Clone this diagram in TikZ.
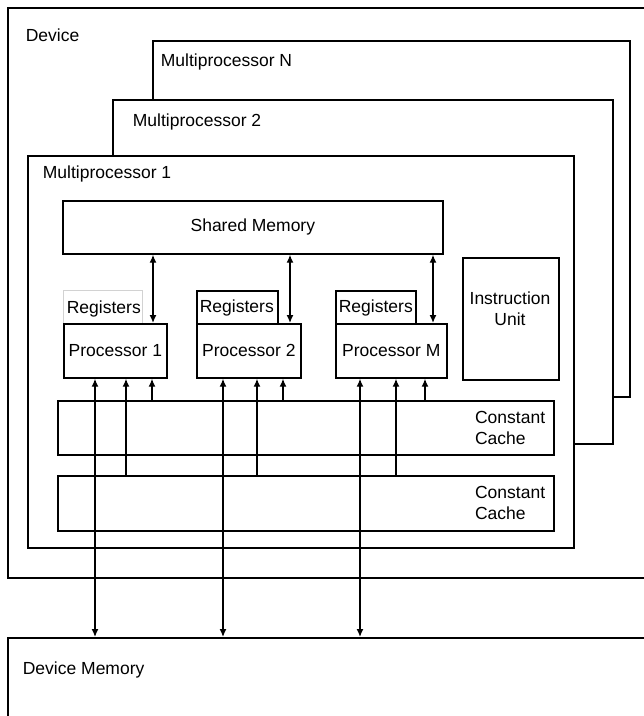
\documentclass[tikz,border=0pt]{standalone}
\usepackage{fontspec}
\setmainfont{Liberation Sans}
\usetikzlibrary{arrows.meta}
\begin{document}
\begin{tikzpicture}[x=1pt,y=-1pt, line width=1.7pt,
 box/.style={draw, fill=white, inner sep=0pt, anchor=north west},
 txt/.style={font=\fontsize{17.5}{21}\selectfont, inner sep=0pt},
 lbl/.style={txt, anchor=west},
 arr/.style={{Latex[length=8pt,width=7pt]}-{Latex[length=8pt,width=7pt]}, line width=1.4pt},
 up/.style={-{Latex[length=8pt,width=7pt]}, line width=1.4pt}]
\useasboundingbox (0,0) rectangle (644,716);
\clip (0,0) rectangle (644,716);
\newcommand{\rbox}[6][]{\node[box,#1, minimum width=#5-#3, minimum height=#6-#4] (#2) at (#3,#4) {};}
% device
\rbox{dev}{7}{7}{700}{577}
\node[lbl] (devl) at (25,35) {Device};
% multiprocessors
\rbox{mpn}{152}{40}{629}{396}
\node[lbl] (mpnl) at (160,62) {Multiprocessor N};
\rbox{mp2}{112}{99}{612}{443}
\node[lbl] (mp2l) at (132,122) {Multiprocessor 2};
\rbox{mp1}{27}{155}{573}{547}
\node[lbl] (mp1l) at (42,174) {Multiprocessor 1};
% shared memory
\rbox{sm}{62}{200}{442}{253}
\node[txt] (sml) at (sm.center) {Shared Memory};
% registers and processors
\rbox[draw=gray!35, line width=1.2pt]{r1}{63}{290}{142}{323}
\node[lbl] (r1l) at (66,309) {Registers};
\rbox{r2}{196}{290}{277}{324}
\node[lbl] (r2l) at (199,308) {Registers};
\rbox{r3}{335}{290}{415}{324}
\node[lbl] (r3l) at (338,308) {Registers};
\rbox{p1}{63}{323}{166}{377}
\node[txt] (p1l) at (p1.center) {Processor 1};
\rbox{p2}{196}{323}{300}{377}
\node[txt] (p2l) at (p2.center) {Processor 2};
\rbox{p3}{335}{323}{446}{377}
\node[txt] (p3l) at (p3.center) {Processor M};
% instruction unit
\rbox{iu}{462}{257}{558}{379}
\node[txt, align=center] (iul) at (510,309) {Instruction\\Unit};
% constant caches
\rbox{cc1}{57}{400}{553}{454}
\node[txt, align=left, anchor=east] (cc1l) at (546,428) {Constant\\Cache};
\rbox{cc2}{57}{475}{553}{530}
\node[txt, align=left, anchor=east] (cc2l) at (546,503) {Constant\\Cache};
% device memory
\rbox{dm}{7}{637}{700}{800}
\node[lbl] (dml) at (22,670) {Device Memory};
% column coordinates
\coordinate (s1) at (153,0); \coordinate (s2) at (290,0); \coordinate (s3) at (433,0);
\coordinate (m1) at (95,0);  \coordinate (m2) at (223,0); \coordinate (m3) at (360,0);
\coordinate (a1) at (126,0); \coordinate (a2) at (257,0); \coordinate (a3) at (396,0);
\coordinate (b1) at (152,0); \coordinate (b2) at (283,0); \coordinate (b3) at (425,0);
% shared memory <-> processors
\draw[arr] (sm.south -| s1) -- (p1.north -| s1);
\draw[arr] (sm.south -| s2) -- (p2.north -| s2);
\draw[arr] (sm.south -| s3) -- (p3.north -| s3);
% device memory <-> processors
\draw[arr] (p1.south -| m1) -- (dm.north -| m1);
\draw[arr] (p2.south -| m2) -- (dm.north -| m2);
\draw[arr] (p3.south -| m3) -- (dm.north -| m3);
% cache 2 -> processors
\draw[up] (cc2.north -| a1) -- (p1.south -| a1);
\draw[up] (cc2.north -| a2) -- (p2.south -| a2);
\draw[up] (cc2.north -| a3) -- (p3.south -| a3);
% cache 1 -> processors
\draw[up] (cc1.north -| b1) -- (p1.south -| b1);
\draw[up] (cc1.north -| b2) -- (p2.south -| b2);
\draw[up] (cc1.north -| b3) -- (p3.south -| b3);
\end{tikzpicture}
\end{document}
